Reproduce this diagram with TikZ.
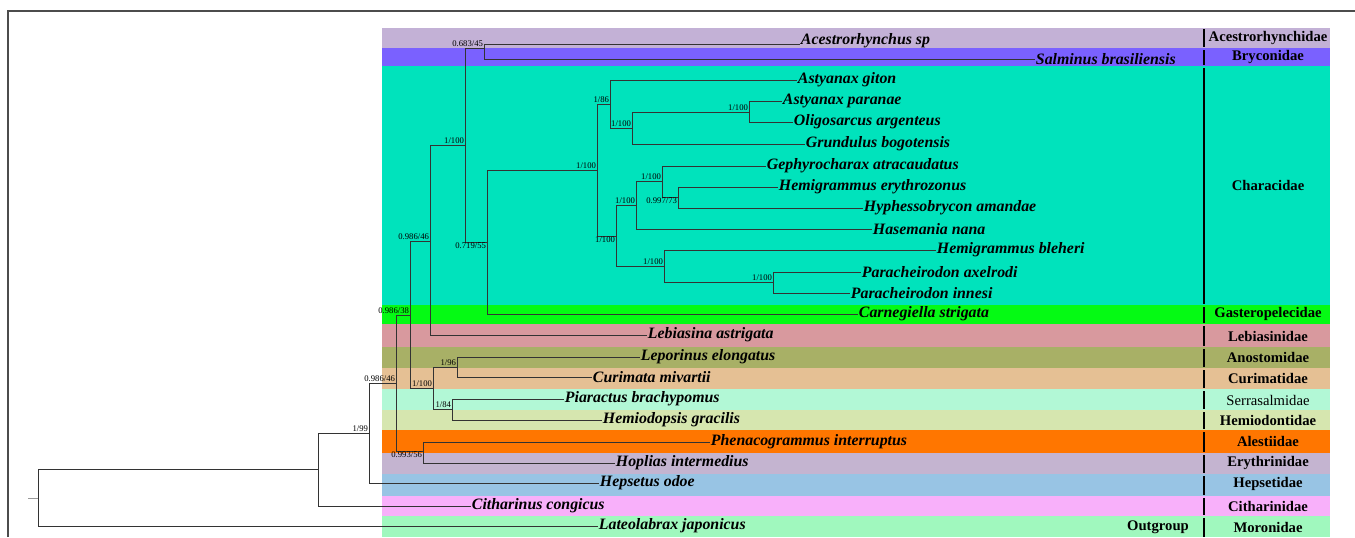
\documentclass[tikz,border=0pt]{standalone}
\usepackage{fontspec}
\setmainfont{Liberation Serif}
\definecolor{cAce}{RGB}{195,177,214}
\definecolor{cBry}{RGB}{122,97,255}
\definecolor{cCha}{RGB}{0,227,188}
\definecolor{cGas}{RGB}{5,250,20}
\definecolor{cLeb}{RGB}{216,153,158}
\definecolor{cAno}{RGB}{168,176,102}
\definecolor{cCur}{RGB}{229,192,148}
\definecolor{cSer}{RGB}{178,248,214}
\definecolor{cHem}{RGB}{214,230,175}
\definecolor{cAle}{RGB}{255,118,0}
\definecolor{cEry}{RGB}{196,180,208}
\definecolor{cHep}{RGB}{152,196,228}
\definecolor{cCit}{RGB}{248,176,250}
\definecolor{cMor}{RGB}{160,248,190}
\begin{document}
\begin{tikzpicture}[x=0.75pt,y=-0.75pt,
    br/.style={draw=black!80,line width=0.7pt},
    sp/.style={font=\fontsize{11.9}{13}\selectfont\bfseries\itshape,anchor=west,inner sep=0.5pt},
    fam/.style={font=\fontsize{11}{12}\selectfont\bfseries,inner sep=0pt},
    bs/.style={font=\fontsize{6.5}{7}\selectfont,inner sep=0.6pt,anchor=south east},
    bsb/.style={bs,anchor=north east}]
    \useasboundingbox (0,0) rectangle (1355,537);

    \fill[cAce] (382,28) rectangle (1330,48);
    \fill[cBry] (382,48) rectangle (1330,66);
    \fill[cCha] (382,66) rectangle (1330,305);
    \fill[cGas] (382,305) rectangle (1330,324);
    \fill[cLeb] (382,324) rectangle (1330,347);
    \fill[cAno] (382,347) rectangle (1330,368);
    \fill[cCur] (382,368) rectangle (1330,389);
    \fill[cSer] (382,389) rectangle (1330,410);
    \fill[cHem] (382,410) rectangle (1330,430);
    \fill[cAle] (382,430) rectangle (1330,453);
    \fill[cEry] (382,453) rectangle (1330,474);
    \fill[cHep] (382,474) rectangle (1330,496);
    \fill[cCit] (382,496) rectangle (1330,516);
    \fill[cMor] (382,516) rectangle (1330,537);

    \draw[line width=1.5pt] (1204,29) -- (1204,47) (1204,50) -- (1204,65) (1204,68) -- (1204,304)
        (1204,307) -- (1204,323) (1204,326) -- (1204,346) (1204,349) -- (1204,367)
        (1204,370) -- (1204,388) (1204,391) -- (1204,409) (1204,412) -- (1204,429)
        (1204,432) -- (1204,452) (1204,455) -- (1204,473) (1204,476) -- (1204,495)
        (1204,498) -- (1204,515) (1204,518) -- (1204,537);

    \draw[black!70,line width=0.8pt] (8,537) -- (8,11) -- (1355,11);

    \node[fam] (fAce) at (1268,38) {Acestrorhynchidae};
    \node[fam] (fBry) at (1268,57) {Bryconidae};
    \node[fam] (fCha) at (1268,185) {Characidae};
    \node[fam] (fGas) at (1268,314) {Gasteropelecidae};
    \node[fam] (fLeb) at (1268,336) {Lebiasinidae};
    \node[fam] (fAno) at (1268,357) {Anostomidae};
    \node[fam] (fCur) at (1268,378) {Curimatidae};
    \node[fam,font=\fontsize{11}{12}\selectfont] (fSer) at (1268,400) {Serrasalmidae};
    \node[fam] (fHem) at (1268,420) {Hemiodontidae};
    \node[fam] (fAle) at (1268,441) {Alestiidae};
    \node[fam] (fEry) at (1268,463) {Erythrinidae};
    \node[fam] (fHep) at (1268,484) {Hepsetidae};
    \node[fam] (fCit) at (1268,506) {Citharinidae};
    \node[fam] (fMor) at (1268,527) {Moronidae};
    \node[fam] (outg) at (1158,527) {Outgroup};

    \node[sp,anchor=base west] (acs) at (800,44) {Acestrorhynchus sp};
    \node[sp] (sal) at (1035,59) {Salminus brasiliensis};
    \node[sp] (agi) at (797,80) {Astyanax giton};
    \node[sp] (apa) at (782,101) {Astyanax paranae};
    \node[sp] (oli) at (793,122) {Oligosarcus argenteus};
    \node[sp] (gru) at (805,144) {Grundulus bogotensis};
    \node[sp] (gep) at (766,166) {Gephyrocharax atracaudatus};
    \node[sp] (her) at (778,187) {Hemigrammus erythrozonus};
    \node[sp] (hyp) at (863,208) {Hyphessobrycon amandae};
    \node[sp] (has) at (872,229) {Hasemania nana};
    \node[sp] (ble) at (936,250) {Hemigrammus bleheri};
    \node[sp] (axe) at (861,272) {Paracheirodon axelrodi};
    \node[sp] (inn) at (850,293) {Paracheirodon innesi};
    \node[sp] (car) at (858,314) {Carnegiella strigata};
    \node[sp] (leb) at (647,335) {Lebiasina astrigata};
    \node[sp] (lep) at (640,357) {Leporinus elongatus};
    \node[sp] (cur) at (592,377) {Curimata mivartii};
    \node[sp] (pia) at (564,399) {Piaractus brachypomus};
    \node[sp] (hmd) at (602,420) {Hemiodopsis gracilis};
    \node[sp] (phe) at (710,442) {Phenacogrammus interruptus};
    \node[sp] (hop) at (615,463) {Hoplias intermedius};
    \node[sp] (hps) at (599,483) {Hepsetus odoe};
    \node[sp] (cit) at (471,506) {Citharinus congicus};
    \node[sp] (lat) at (598,526) {Lateolabrax japonicus};

    \coordinate (stub) at (28,498);
    \coordinate (root) at (38,498);
    \coordinate (A) at (318,469);
    \coordinate (B) at (369,433);
    \coordinate (C) at (396,383);
    \coordinate (D) at (410,315);
    \coordinate (E) at (423,451);
    \coordinate (F) at (430,241);
    \coordinate (G) at (433,388);
    \coordinate (H) at (457,367);
    \coordinate (I) at (452,409);
    \coordinate (J) at (465,145);
    \coordinate (L) at (484,48);
    \coordinate (K) at (487,242);
    \coordinate (M) at (597,170);
    \coordinate (O) at (610,104);
    \coordinate (P) at (632,128);
    \coordinate (Q) at (749,112);
    \coordinate (N) at (616,236);
    \coordinate (R) at (636,205);
    \coordinate (T) at (662,181);
    \coordinate (U) at (678,197);
    \coordinate (S) at (664,266);
    \coordinate (V) at (773,282);

    \draw[br,draw=black!40] (stub) -- (root);
    \draw[br] (root) |- (A) (root) |- (lat.west);
    \draw[br] (A) |- (B) (A) |- (cit.west);
    \draw[br] (B) |- (C) (B) |- (hps.west);
    \draw[br] (C) |- (D) (C) |- (E);
    \draw[br] (E) |- (phe.west) (E) |- (hop.west);
    \draw[br] (D) |- (F) (D) |- (G);
    \draw[br] (G) |- (H) (G) |- (I);
    \draw[br] (H) |- (lep.west) (H) |- (cur.west);
    \draw[br] (I) |- (pia.west) (I) |- (hmd.west);
    \draw[br] (F) |- (J) (F) |- (leb.west);
    \draw[br] (J) |- (L) (J) |- (K);
    \draw[br] (L) |- (acs.base west) (L) |- (sal.west);
    \draw[br] (K) |- (M) (K) |- (car.west);
    \draw[br] (M) |- (O) (M) |- (N);
    \draw[br] (O) |- (agi.west) (O) |- (P);
    \draw[br] (P) |- (Q) (P) |- (gru.west);
    \draw[br] (Q) |- (apa.west) (Q) |- (oli.west);
    \draw[br] (N) |- (R) (N) |- (S);
    \draw[br] (R) |- (T) (R) |- (has.west);
    \draw[br] (T) |- (gep.west) (T) |- (U);
    \draw[br] (U) |- (her.west) (U) |- (hyp.west);
    \draw[br] (S) |- (ble.west) (S) |- (V);
    \draw[br] (V) |- (axe.west) (V) |- (inn.west);

    \node[bs] (lB) at (B) {1/99};
    \node[bs] (lC) at (C) {0.986/46};
    \node[bs] (lD) at (D) {0.986/38};
    \node[bsb] (lE) at (E) {0.993/56};
    \node[bs] (lF) at (F) {0.986/46};
    \node[bs] (lG) at (G) {1/100};
    \node[bs] (lH) at (H) {1/96};
    \node[bs] (lI) at (I) {1/84};
    \node[bs] (lJ) at (J) {1/100};
    \node[bs] (lL) at (L) {0.683/45};
    \node[bsb] (lK) at (K) {0.719/55};
    \node[bs] (lM) at (M) {1/100};
    \node[bs] (lO) at (O) {1/86};
    \node[bs] (lP) at (P) {1/100};
    \node[bs] (lQ) at (Q) {1/100};
    \node[bsb] (lN) at (N) {1/100};
    \node[bs] (lR) at (R) {1/100};
    \node[bs] (lT) at (T) {1/100};
    \node[bsb] (lU) at (U) {0.997/73};
    \node[bs] (lS) at (S) {1/100};
    \node[bs] (lV) at (V) {1/100};
\end{tikzpicture}
\end{document}
